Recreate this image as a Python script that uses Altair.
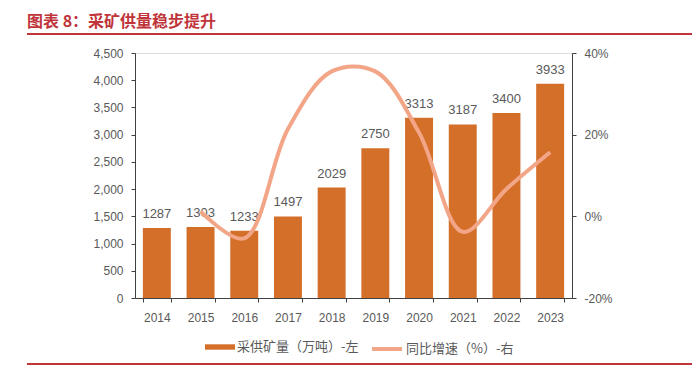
import altair as alt
import pandas as pd

years = ["2014", "2015", "2016", "2017", "2018", "2019", "2020", "2021", "2022", "2023"]
output = [1287, 1303, 1233, 1497, 2029, 2750, 3313, 3187, 3400, 3933]
growth = [None, 1.2, -5.4, 21.4, 35.5, 35.5, 20.5, -3.8, 6.7, 15.7]

bar_name = "采供矿量（万吨）-左"
line_name = "同比增速（%）-右"
title_text = "图表 8：采矿供量稳步提升"
source_text = "资料来源：公司公告，华源证券研究所"

BAR = "#D46F2A"
LINE = "#F3A588"
RED = "#C0353A"
GRAY = "#595959"
FONT = "Liberation Sans"
CJK = "Noto Sans CJK SC"

df = pd.DataFrame({"year": years, "output": output, "growth": growth})
df["bar_s"] = bar_name
df["line_s"] = line_name

x_enc = alt.X("year:N", sort=years, title=None,
              scale=alt.Scale(paddingInner=0.36, paddingOuter=0.18),
              axis=alt.Axis(labelAngle=0, labelColor=GRAY, labelFontSize=12, labelFont=FONT,
                            domainColor="#404040", tickColor="#404040", tickBand="extent",
                            tickSize=4, labelPadding=10))

left_axis = alt.Axis(values=list(range(0, 4501, 500)), format=",.0f", grid=False,
                     labelColor=GRAY, labelFontSize=12, labelFont=FONT,
                     domainColor="#404040", tickColor="#404040", tickSize=4,
                     labelPadding=8)
y_left = alt.Y("output:Q", title=None,
               scale=alt.Scale(domain=[0, 4500], nice=False), axis=left_axis)

base = alt.Chart(df)

bars = base.mark_bar(color=BAR).encode(
    x=x_enc,
    y=y_left,
    color=alt.Color("bar_s:N", title=None,
                    scale=alt.Scale(domain=[bar_name], range=[BAR]),
                    legend=alt.Legend(orient="none", legendX=70, legendY=279,
                                      symbolType="M-1,-0.18L1,-0.18L1,0.18L-1,0.18Z",
                                      symbolSize=900, symbolStrokeWidth=0,
                                      labelFont=CJK, labelFontSize=13, labelColor=GRAY,
                                      labelOffset=2)),
)

labels = base.mark_text(baseline="bottom", dy=-7, fontSize=13, font=FONT, color=GRAY).encode(
    x=x_enc,
    y=y_left,
    text=alt.Text("output:N"),
)

left = alt.layer(bars, labels)

line = base.transform_filter("datum.growth != null").mark_line(
    strokeWidth=4, interpolate="catmull-rom"
).encode(
    x=x_enc,
    y=alt.Y("growth:Q", title=None,
            scale=alt.Scale(domain=[-20, 40], nice=False),
            axis=alt.Axis(values=[-20, 0, 20, 40], labelExpr="datum.value + '%'",
                          orient="right", grid=False,
                          labelColor=GRAY, labelFontSize=12, labelFont=FONT,
                          domainColor="#404040", tickColor="#404040", tickSize=4,
                          labelPadding=8)),
    stroke=alt.Stroke("line_s:N", title=None,
                      scale=alt.Scale(domain=[line_name], range=[LINE]),
                      legend=alt.Legend(orient="none", legendX=235, legendY=279,
                                        symbolType="stroke", symbolSize=900,
                                        symbolStrokeWidth=4,
                                        labelFont=CJK, labelFontSize=13, labelColor=GRAY,
                                        labelOffset=2)),
)

# decorative header/footer
deco = pd.DataFrame({"t": [title_text]})
title_mark = alt.Chart(deco).mark_text(align="left", baseline="middle", font=CJK,
                                       fontSize=16, fontWeight="bold", color=RED).encode(
    x=alt.value(-108), y=alt.value(-31), text="t:N")
top_rule = alt.Chart(deco).mark_rule(color=RED, strokeWidth=2).encode(
    x=alt.value(-108), x2=alt.value(560), y=alt.value(-19))
bot_rule = alt.Chart(deco).mark_rule(color=RED, strokeWidth=2).encode(
    x=alt.value(-108), x2=alt.value(560), y=alt.value(311))
src_mark = alt.Chart(pd.DataFrame({"t": [source_text]})).mark_text(
    align="left", baseline="top", font=CJK, fontSize=13, color=RED).encode(
    x=alt.value(-108), y=alt.value(317), text="t:N")

main = alt.layer(left, line).resolve_scale(y="independent", color="independent", stroke="independent")

chart = alt.layer(main, title_mark, top_rule, bot_rule, src_mark).properties(
    width=437, height=245,
    padding={"left": 127, "top": 45, "right": 120, "bottom": 70},
    autosize=alt.AutoSizeParams(type="none"),
).configure_view(stroke=None).configure(background="white")

chart.save("out.html", embed_options={"renderer": "svg", "actions": False})
